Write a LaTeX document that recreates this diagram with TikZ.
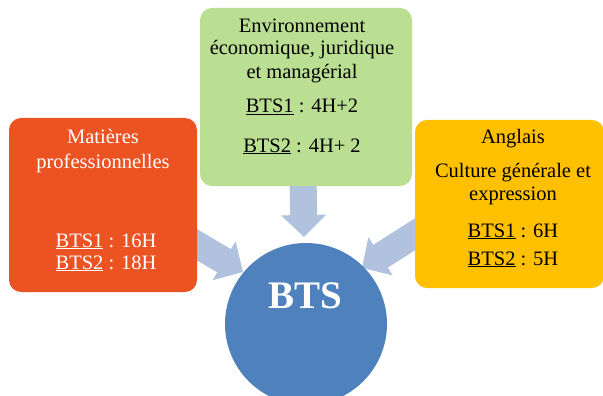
\documentclass[tikz,border=0pt]{standalone}
\usepackage{fontspec}
\setmainfont{Liberation Serif}
\usetikzlibrary{arrows.meta}
\definecolor{boxred}{RGB}{236,83,34}
\definecolor{boxgreen}{RGB}{186,223,147}
\definecolor{boxgold}{RGB}{255,192,0}
\definecolor{btsblue}{RGB}{79,129,189}
\definecolor{arrowblue}{RGB}{177,194,222}
\tikzset{
  bloc/.style={rectangle,rounded corners=12pt,inner sep=0pt},
  txt/.style={anchor=base,inner sep=0pt,font=\fontsize{20.5}{24}\selectfont},
  fleche/.style={arrowblue,line width=27pt,-{Triangle[width=44pt,length=22pt]}}
}
\begin{document}
\begin{tikzpicture}[x=1pt,y=-1pt]
          \useasboundingbox (0,0) rectangle (603,396);

          % fleches
          \coordinate (g0) at (303,175);
          \coordinate (g1) at (304,237);
          \coordinate (m0) at (189,240);
          \coordinate (m1) at (243,272);
          \coordinate (a0) at (428,226);
          \coordinate (a1) at (362,268);
          \draw[fleche] (g0) -- (g1);
          \draw[fleche] (m0) -- (m1);
          \draw[fleche] (a0) -- (a1);

          % blocs
          \node[bloc,fill=boxred,minimum width=188pt,minimum height=174pt] (mat) at (103,205) {};
          \node[bloc,fill=boxgreen,minimum width=212pt,minimum height=178pt] (env) at (306,97) {};
          \node[bloc,fill=boxgold,minimum width=189pt,minimum height=168pt] (ang) at (509.5,204) {};
          \node[circle,fill=btsblue,minimum size=162pt,inner sep=0pt] (bts) at (306,324) {};

          % textes
          \node[txt,white] (mat1) at (103,143) {Matières};
          \node[txt,white] (mat2) at (103,168) {professionnelles};
          \node[txt,white] (mat3) at (106,247) {\underline{BTS1} : 16H};
          \node[txt,white] (mat4) at (106,269) {\underline{BTS2} : 18H};

          \node[txt] (env1) at (302,33) {Environnement};
          \node[txt] (env2) at (302,55) {économique, juridique};
          \node[txt] (env3) at (302,78) {et managérial};
          \node[txt] (env4) at (302,113) {\underline{BTS1} : 4H+2};
          \node[txt] (env5) at (302,152) {\underline{BTS2} : 4H+ 2};

          \node[txt] (ang1) at (513,143) {Anglais};
          \node[txt] (ang2) at (513,177) {Culture générale et};
          \node[txt] (ang3) at (513,200) {expression};
          \node[txt] (ang4) at (513,237) {\underline{BTS1} : 6H};
          \node[txt] (ang5) at (513,265) {\underline{BTS2} : 5H};

          \node[anchor=base,inner sep=0pt,white,font=\fontsize{39}{44}\selectfont\bfseries] (btst) at (305,308) {BTS};
      \end{tikzpicture}
\end{document}
